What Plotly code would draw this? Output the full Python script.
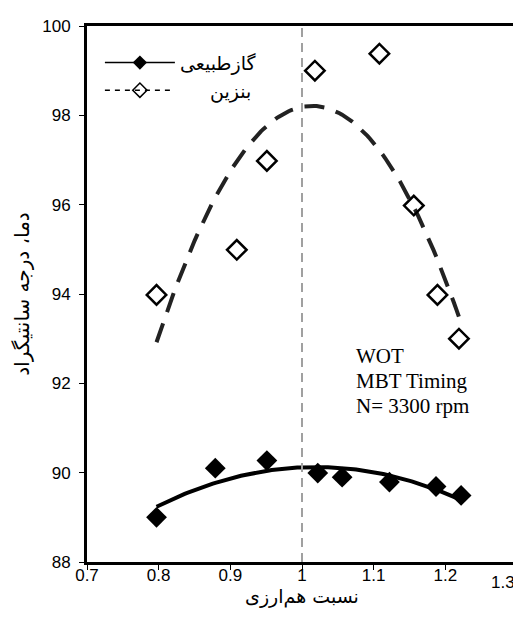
import numpy as np
import plotly.graph_objects as go

# Data
gas_x = [0.797, 0.879, 0.951, 1.022, 1.056, 1.122, 1.187, 1.222]
gas_y = [89.0, 90.1, 90.27, 89.99, 89.9, 89.79, 89.69, 89.49]
pet_x = [0.797, 0.909, 0.951, 1.018, 1.108, 1.156, 1.189, 1.219]
pet_y = [93.98, 94.99, 96.98, 99.0, 99.38, 95.98, 93.98, 93.0]
gas_name = "گازطبیعی"
pet_name = "\u00a0\u00a0\u00a0\u00a0\u00a0بنزین"
x_title = "نسبت هم‌ارزی"
y_title = "دما، درجه سانتیگراد"
x_ticks = [0.7, 0.8, 0.9, 1.0, 1.1, 1.2, 1.3]
x_ticktext = ["0.7", "0.8", "0.9", "1", "1.1", "1.2", "1.3"]
y_ticks = [88, 90, 92, 94, 96, 98, 100]
ref_x = 1.0
notes = ["WOT", "MBT Timing", "N= 3300 rpm"]

PERSIAN = "DejaVu Sans, sans-serif"


def quad_trend(xs, ys, n=120):
    c = np.polyfit(xs, ys, 2)
    xx = np.linspace(min(xs), max(xs), n)
    return xx, np.polyval(c, xx)


gx, gy = quad_trend(gas_x, gas_y)
px, py = quad_trend(pet_x, pet_y)

fig = go.Figure()

# trendlines (no legend)
fig.add_trace(go.Scatter(x=gx, y=gy, mode="lines", showlegend=False,
                         line=dict(color="black", width=4), hoverinfo="skip"))
fig.add_trace(go.Scatter(x=px, y=py, mode="lines", showlegend=False,
                         line=dict(color="#222", width=4, dash="20px,12px"), hoverinfo="skip"))

# data markers
fig.add_trace(go.Scatter(x=gas_x, y=gas_y, mode="markers", showlegend=False,
                         marker=dict(symbol="diamond", size=16, color="black")))
fig.add_trace(go.Scatter(x=pet_x, y=pet_y, mode="markers", showlegend=False,
                         marker=dict(symbol="diamond-open", size=15, color="black",
                                     line=dict(width=2.5, color="black"))))

# legend entries
fig.add_trace(go.Scatter(x=[None], y=[None], mode="lines+markers", name=gas_name,
                         line=dict(color="black", width=1.5),
                         marker=dict(symbol="diamond", size=11, color="black")))
fig.add_trace(go.Scatter(x=[None], y=[None], mode="lines+markers", name=pet_name,
                         line=dict(color="black", width=1.5, dash="5px,5px"),
                         marker=dict(symbol="diamond-open", size=11, color="black",
                                     line=dict(width=1.5, color="black"))))

fig.add_vline(x=ref_x, line=dict(color="#a0a0a0", width=2, dash="9px,6px"))

for i, t in enumerate(notes):
    fig.add_annotation(x=0.62, y=0.384 - i * 0.0466, xref="paper", yref="paper",
                       text=t, showarrow=False, xanchor="left", yanchor="middle",
                       font=dict(family="Liberation Serif, Times New Roman, serif",
                                 size=21, color="black"))

# last x tick label is drawn right-aligned to the axis end (as in the reference)
fig.add_annotation(x=1.0, y=0, xref="paper", yref="paper", text=x_ticktext[-1],
                   showarrow=False, xanchor="right", yanchor="top", yshift=-9,
                   font=dict(size=17, family="Liberation Sans, Arial, sans-serif"))
tick_text_shown = x_ticktext[:-1] + [""]

fig.update_layout(
    width=521, height=626,
    margin=dict(l=79, r=12, t=18, b=72, autoexpand=False),
    paper_bgcolor="white", plot_bgcolor="white",
    font=dict(family="Liberation Sans, Arial, sans-serif", size=17, color="black"),
    legend=dict(x=0.03, y=0.967, xanchor="left", yanchor="top",
                bgcolor="rgba(0,0,0,0)", itemwidth=70,
                font=dict(size=19, family=PERSIAN)),
    showlegend=True,
)
fig.update_xaxes(range=[0.7, 1.3], tickvals=x_ticks, ticktext=tick_text_shown,
                 automargin=False,
                 showgrid=False, zeroline=False, showline=True, linecolor="black",
                 linewidth=3, mirror=True, ticks="outside", ticklen=5, tickwidth=1,
                 tickcolor="black", ticklabelstandoff=-9,
                 title=dict(text=x_title, font=dict(size=19, family=PERSIAN), standoff=6))
fig.update_yaxes(range=[88, 100], tickvals=y_ticks, automargin=False,
                 showgrid=False, zeroline=False, showline=True, linecolor="black",
                 linewidth=3, mirror=True, ticks="outside", ticklen=5, tickwidth=1,
                 tickcolor="black", ticklabelstandoff=5,
                 title=dict(text=y_title, font=dict(size=20, family=PERSIAN), standoff=8))

fig.write_html("out.html")
